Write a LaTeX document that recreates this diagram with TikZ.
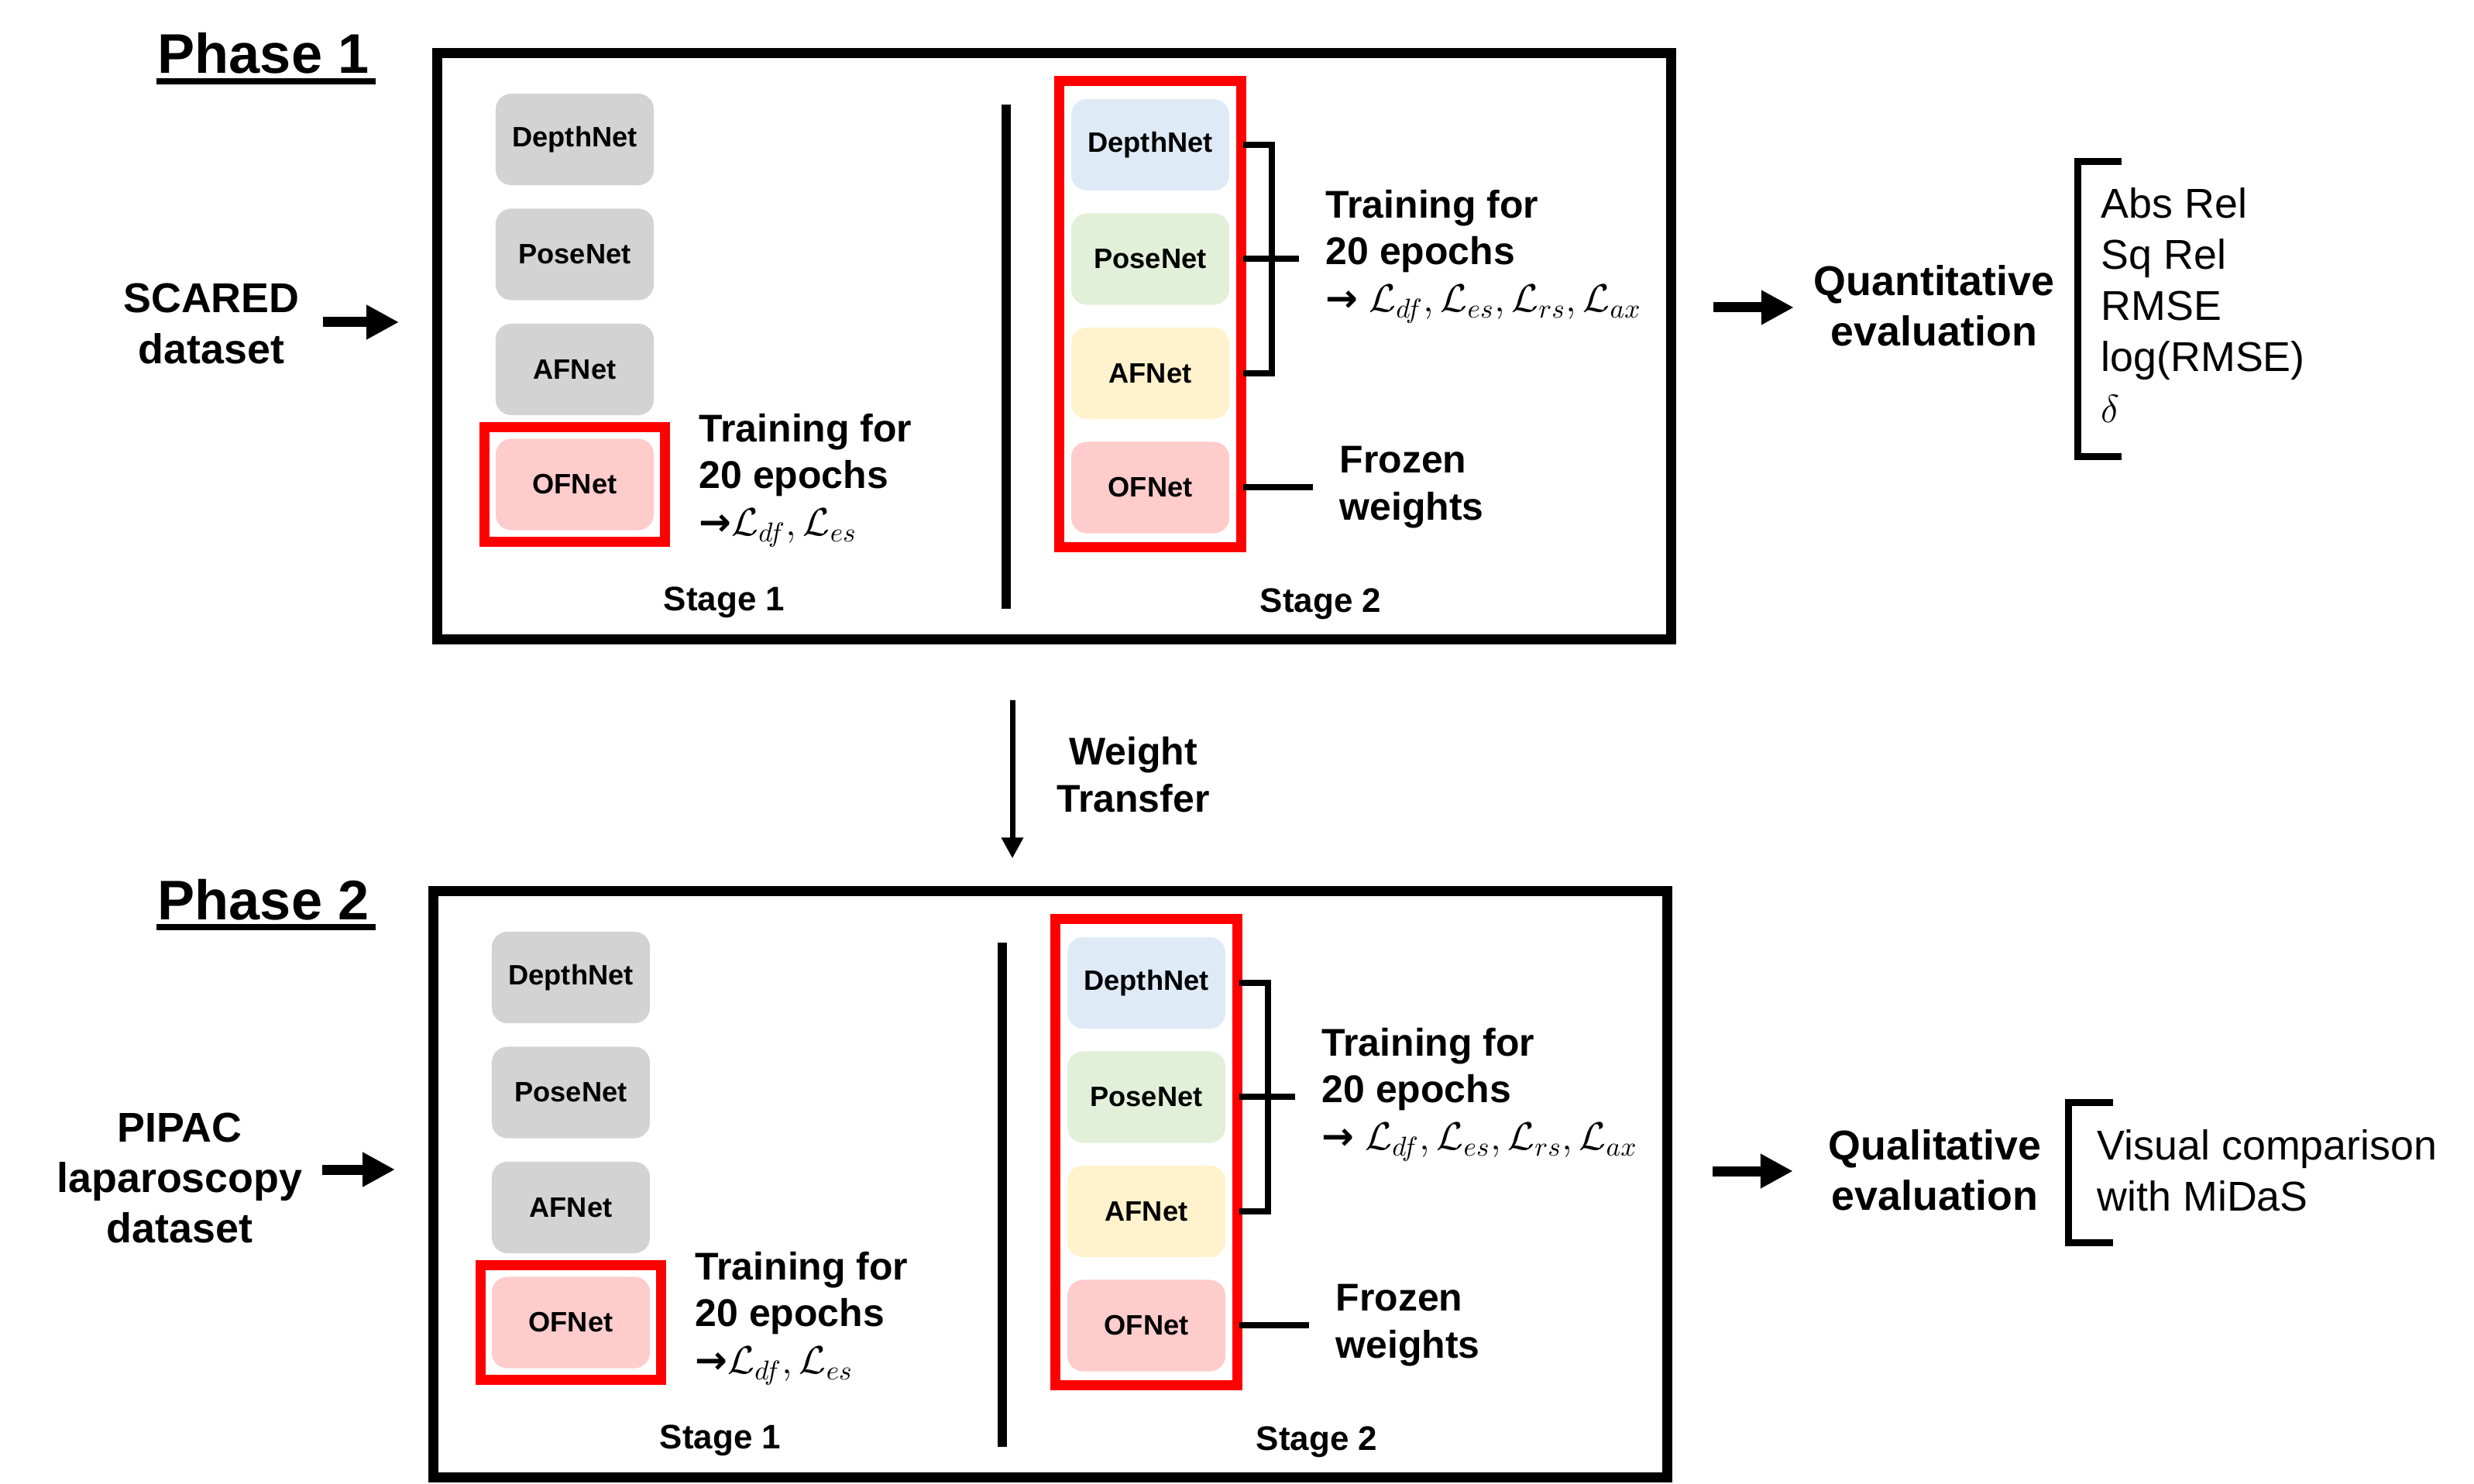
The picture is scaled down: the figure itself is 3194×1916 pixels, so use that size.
\documentclass[tikz,border=0pt]{standalone}
\usepackage{fontspec}
\setmainfont{Liberation Sans}
\newfontfamily\arrowfont{DejaVu Sans}
\usepackage{tikz}
\usetikzlibrary{arrows.meta, positioning, fit, calc}
\definecolor{NetGray}{HTML}{D3D3D3}
\definecolor{NetBlue}{HTML}{DEEBF7}
\definecolor{NetGreen}{HTML}{E2F0D9}
\definecolor{NetYellow}{HTML}{FFF2CC}
\definecolor{NetPink}{HTML}{FFCCCC}

\begin{document}
\begin{tikzpicture}[x=0.01cm, y=-0.01cm,
    net/.style={rounded corners=0.2cm, minimum width=2.04cm, minimum height=1.18cm, inner sep=0pt, font=\fontsize{10.3}{12}\selectfont\bfseries},
    phasebox/.style={draw, line width=0.13cm, minimum width=15.92cm, minimum height=7.56cm, inner sep=0pt},
    redframe/.style={draw=red, line width=0.13cm, inner sep=0.14cm},
    lbl/.style={font=\fontsize{14.2}{17.3}\selectfont\bfseries, align=left, inner sep=0pt},
    big/.style={font=\fontsize{15.3}{18.5}\selectfont\bfseries, align=center, inner sep=0pt},
    metric/.style={font=\fontsize{15.3}{18.7}\selectfont, align=left, inner sep=0pt},
    stagelbl/.style={font=\fontsize{12.5}{15}\selectfont\bfseries, inner sep=0pt},
    title/.style={font=\fontsize{20.5}{24}\selectfont\bfseries, inner sep=0pt},
    fatarrow/.style={line width=0.13cm, -{Triangle[length=0.42cm, width=0.42cm]}},
    brk/.style={line width=0.08cm}]
  \useasboundingbox (0,0) rectangle (3194,1916);

  % the two phases share the same layout
  \foreach \p/\dx/\dy in {1/0/0, 2/-5/1082} {
    \begin{scope}[shift={(\dx,\dy)}]
      \node[phasebox] (box\p) at (1361,447) {};
      % stage 1
      \node[net, fill=NetGray] (dnA\p) at (742,180) {DepthNet};
      \node[net, fill=NetGray, below=0.29cm of dnA\p] (pnA\p) {PoseNet};
      \node[net, fill=NetGray, below=0.29cm of pnA\p] (afA\p) {AFNet};
      \node[net, fill=NetPink, below=0.29cm of afA\p] (ofA\p) {OFNet};
      \node[redframe, fit=(ofA\p)] (rfA\p) {};
      \node[lbl, anchor=west] (trA\p) at (902,620) {Training for\\20 epochs\\{\arrowfont →}$\mathcal{L}_{df},\mathcal{L}_{es}$};
      \node[stagelbl] (stA\p) at (935,778) {Stage 1};
      \draw[line width=0.12cm] (1299,135) -- (1299,786);
      % stage 2
      \node[net, fill=NetBlue] (dnB\p) at (1485,187) {DepthNet};
      \node[net, fill=NetGreen, below=0.28cm of dnB\p] (pnB\p) {PoseNet};
      \node[net, fill=NetYellow, below=0.28cm of pnB\p] (afB\p) {AFNet};
      \node[net, fill=NetPink, below=0.28cm of afB\p] (ofB\p) {OFNet};
      \node[redframe, fit=(dnB\p)(ofB\p), inner xsep=0.145cm, inner ysep=0.2cm, yshift=0.03cm] (rfB\p) {};
      \draw[brk] ($(dnB\p.east)+(17,0)$) -| ($(afB\p.east)+(54,0)$) -- ($(afB\p.east)+(17,0)$);
      \draw[brk] ($(pnB\p.east)+(17,0)$) -- ++(72,0);
      \draw[brk] ($(ofB\p.east)+(17,0)$) -- ++(90,0);
      \node[lbl, anchor=west] (trB\p) at (1711,331) {Training for\\20 epochs\\{\arrowfont →} $\mathcal{L}_{df}, \mathcal{L}_{es}, \mathcal{L}_{rs}, \mathcal{L}_{ax}$};
      \node[lbl, anchor=west] (frB\p) at (1729,629) {Frozen\\weights};
      \node[stagelbl] (stB\p) at (1705,780) {Stage 2};
    \end{scope}
  }

  % titles
  \node[title, anchor=base] (ph1) at (340,95) {Phase 1};
  \draw[line width=0.08cm] ($(ph1.base west)+(-1,10)$) -- ($(ph1.base east)+(8,10)$);
  \node[title, anchor=base] (ph2) at (340,1187) {Phase 2};
  \draw[line width=0.08cm] ($(ph2.base west)+(-1,10)$) -- ($(ph2.base east)+(8,10)$);

  % inputs
  \node[big] (scared) at (273,418) {SCARED\\dataset};
  \draw[fatarrow] ($(scared.east)+(30,-2)$) -- ($(scared.east -| box1.west)+(-43,-2)$);
  \node[big] (pipac) at (232,1521) {PIPAC\\laparoscopy\\dataset};
  \draw[fatarrow] ($(pipac.east)+(25,-11)$) -- ($(pipac.east -| box2.west)+(-43,-11)$);

  % evaluations
  \node[big] (quant) at (2497,395) {Quantitative\\evaluation};
  \draw[fatarrow] ($(box1.east |- quant.west)+(48,2)$) -- ($(quant.west)+(-25,2)$);
  \node[metric, anchor=west] (met) at (2712,394) {Abs Rel\\Sq Rel\\RMSE\\log(RMSE)\\$\delta$};
  \draw[line width=0.09cm] (2739,209) -- (2682,209) -- (2682,590) -- (2739,590);
  \node[big] (qual) at (2498,1511) {Qualitative\\evaluation};
  \draw[fatarrow] ($(box2.east |- qual.west)+(52,1)$) -- ($(qual.west)+(-45,1)$);
  \node[metric, anchor=west] (vis) at (2707,1511) {Visual comparison\\with MiDaS};
  \draw[line width=0.09cm] (2728,1423) -- (2670,1423) -- (2670,1604) -- (2728,1604);

  % transfer between phases
  \draw[line width=0.07cm, -{Triangle[length=0.27cm, width=0.27cm]}] ($(box1.south)+(-54,72)$) -- ($(box2.north)+(-49,-36)$);
  \node[lbl, align=center] (wt) at (1463,1000) {Weight\\Transfer};
\end{tikzpicture}
\end{document}
